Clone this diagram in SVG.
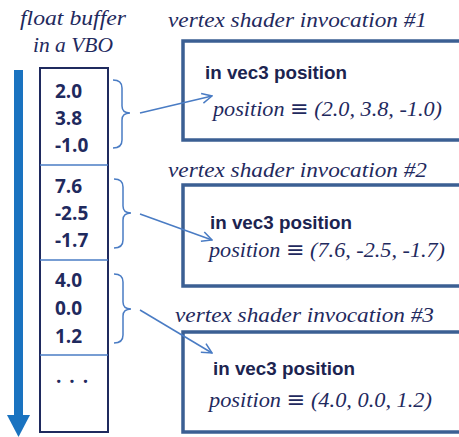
<svg xmlns="http://www.w3.org/2000/svg" width="459" height="437" viewBox="0 0 459 437">
<defs>
<style>
.cap{font-family:"Liberation Serif","DejaVu Serif",serif;font-style:italic;font-size:22px;fill:#1f2a5e}
.num{font-family:"Open Sans","Liberation Sans",sans-serif;font-weight:bold;font-size:19px;fill:#1f2a5e}
.decl{font-family:"Liberation Sans",Arial,sans-serif;font-weight:bold;font-size:19px;fill:#1c2450}
.val{font-family:"Liberation Serif","DejaVu Serif",serif;font-style:italic;font-size:22px;fill:#1f2a5e}
.eq{font-family:"DejaVu Serif",serif;font-style:normal}
.box{fill:#fff;stroke:#3b5f93;stroke-width:3.5}
.brace{fill:none;stroke:#4a7cc4;stroke-width:1.5}
.conn{fill:none;stroke:#4a7cc4;stroke-width:1.5}
</style>
<marker id="ah" viewBox="0 0 12 12" refX="11" refY="6" markerWidth="12" markerHeight="12" markerUnits="userSpaceOnUse" orient="auto">
<path d="M1,1 L11,6 L1,11" fill="none" stroke="#4a7cc4" stroke-width="1.5"/>
</marker>
</defs>
<rect width="459" height="437" fill="#fff"/>
<g id="buffer">
<text class="cap" x="20" y="25" textLength="106" lengthAdjust="spacingAndGlyphs">float buffer</text>
<text class="cap" x="33" y="52" textLength="80" lengthAdjust="spacingAndGlyphs">in a VBO</text>
<rect x="14" y="70" width="9" height="346" fill="#1a73c0"/>
<path d="M7,415 L30,415 L18.5,437 Z" fill="#1a73c0"/>
<rect x="40" y="68" width="68" height="364" fill="#fff" stroke="#1f2a5e" stroke-width="2"/>
<line x1="40" y1="165" x2="108" y2="165" stroke="#4a7cc4" stroke-width="1.5"/>
<line x1="40" y1="260" x2="108" y2="260" stroke="#4a7cc4" stroke-width="1.5"/>
<line x1="40" y1="355" x2="108" y2="355" stroke="#4a7cc4" stroke-width="1.5"/>
<text class="num" x="55" y="98">2.0</text>
<text class="num" x="55" y="125">3.8</text>
<text class="num" x="55" y="152">-1.0</text>
<text class="num" x="55" y="193">7.6</text>
<text class="num" x="55" y="220">-2.5</text>
<text class="num" x="55" y="247">-1.7</text>
<text class="num" x="55" y="287">4.0</text>
<text class="num" x="55" y="315">0.0</text>
<text class="num" x="55" y="343">1.2</text>
<text class="num" x="56" y="383" font-size="14" letter-spacing="1.5">. . .</text>
</g>
<g id="braces">
<path class="brace" d="M113,80 Q122,80 122,88 L122,106 Q122,113 130,113 Q122,113 122,120 L122,140 Q122,148 113,148"/>
<path class="brace" d="M114,179 Q123,179 123,187 L123,206 Q123,213 131,213 Q123,213 123,220 L123,240 Q123,248 114,248"/>
<path class="brace" d="M114,274 Q123,274 123,282 L123,302 Q123,309 131,309 Q123,309 123,316 L123,335 Q123,343 114,343"/>
</g>
<g id="inv1">
<text class="cap" x="168" y="27" textLength="259" lengthAdjust="spacingAndGlyphs">vertex shader invocation #1</text>
<rect class="box" x="183" y="41" width="290" height="99"/>
<text class="decl" x="205" y="79" textLength="142" lengthAdjust="spacingAndGlyphs">in vec3 position</text>
<text class="val" x="213" y="116" textLength="229" lengthAdjust="spacingAndGlyphs">position <tspan class="eq">≡</tspan> (2.0, 3.8, -1.0)</text>
</g>
<g id="inv2">
<text class="cap" x="168" y="177" textLength="259" lengthAdjust="spacingAndGlyphs">vertex shader invocation #2</text>
<rect class="box" x="183" y="185" width="290" height="101"/>
<text class="decl" x="210" y="229" textLength="142" lengthAdjust="spacingAndGlyphs">in vec3 position</text>
<text class="val" x="209" y="257" textLength="236" lengthAdjust="spacingAndGlyphs">position <tspan class="eq">≡</tspan> (7.6, -2.5, -1.7)</text>
</g>
<g id="inv3">
<text class="cap" x="175" y="322" textLength="259" lengthAdjust="spacingAndGlyphs">vertex shader invocation #3</text>
<rect class="box" x="183" y="332" width="290" height="100"/>
<text class="decl" x="213" y="375" textLength="142" lengthAdjust="spacingAndGlyphs">in vec3 position</text>
<text class="val" x="209" y="407" textLength="223" lengthAdjust="spacingAndGlyphs">position <tspan class="eq">≡</tspan> (4.0, 0.0, 1.2)</text>
</g>
<g id="connectors">
<line class="conn" x1="140" y1="113" x2="212" y2="96" marker-end="url(#ah)"/>
<line class="conn" x1="140" y1="214" x2="212" y2="240" marker-end="url(#ah)"/>
<line class="conn" x1="140" y1="310" x2="212" y2="353" marker-end="url(#ah)"/>
</g>
</svg>
